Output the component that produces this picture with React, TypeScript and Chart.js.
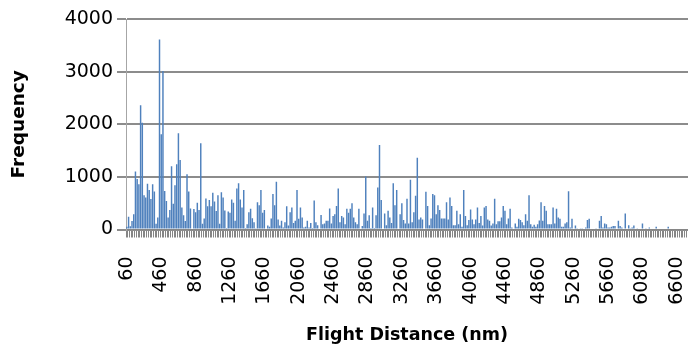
import React, { useEffect, useRef } from 'react';
import { Chart, registerables } from 'chart.js';

Chart.register(...registerables);

// Flight distance categories (nm)
const distances = [
  60, 80, 100, 120, 140, 160, 180, 200, 220, 240,
  260, 280, 300, 320, 340, 360, 380, 400, 420, 440,
  460, 480, 500, 520, 540, 560, 580, 600, 620, 640,
  660, 680, 700, 720, 740, 760, 780, 800, 820, 840,
  860, 880, 900, 920, 940, 960, 980, 1000, 1020, 1040,
  1060, 1080, 1100, 1120, 1140, 1160, 1180, 1200, 1220, 1240,
  1260, 1280, 1300, 1320, 1340, 1360, 1380, 1400, 1420, 1440,
  1460, 1480, 1500, 1520, 1540, 1560, 1580, 1600, 1620, 1640,
  1660, 1680, 1700, 1720, 1740, 1760, 1780, 1800, 1820, 1840,
  1860, 1880, 1900, 1920, 1940, 1960, 1980, 2000, 2020, 2040,
  2060, 2080, 2100, 2120, 2140, 2160, 2180, 2200, 2220, 2240,
  2260, 2280, 2300, 2320, 2340, 2360, 2380, 2400, 2420, 2440,
  2460, 2480, 2500, 2520, 2540, 2560, 2580, 2600, 2620, 2640,
  2660, 2680, 2700, 2720, 2740, 2760, 2780, 2800, 2820, 2840,
  2860, 2880, 2900, 2920, 2940, 2960, 2980, 3000, 3020, 3040,
  3060, 3080, 3100, 3120, 3140, 3160, 3180, 3200, 3220, 3240,
  3260, 3280, 3300, 3320, 3340, 3360, 3380, 3400, 3420, 3440,
  3460, 3480, 3500, 3520, 3540, 3560, 3580, 3600, 3620, 3640,
  3660, 3680, 3700, 3720, 3740, 3760, 3780, 3800, 3820, 3840,
  3860, 3880, 3900, 3920, 3940, 3960, 3980, 4000, 4020, 4040,
  4060, 4080, 4100, 4120, 4140, 4160, 4180, 4200, 4220, 4240,
  4260, 4280, 4300, 4320, 4340, 4360, 4380, 4400, 4420, 4440,
  4460, 4480, 4500, 4520, 4540, 4560, 4580, 4600, 4620, 4640,
  4660, 4680, 4700, 4720, 4740, 4760, 4780, 4800, 4820, 4840,
  4860, 4880, 4900, 4920, 4940, 4960, 4980, 5000, 5020, 5040,
  5060, 5080, 5100, 5120, 5140, 5160, 5180, 5200, 5220, 5240,
  5260, 5280, 5300, 5320, 5340, 5360, 5380, 5400, 5420, 5440,
  5460, 5480, 5500, 5520, 5540, 5560, 5580, 5600, 5620, 5640,
  5660, 5680, 5700, 5720, 5740, 5760, 5780, 5800, 5820, 5840,
  5860, 5880, 5900, 5920, 5940, 5980, 6000, 6020, 6040, 6060,
  6080, 6100, 6120, 6160, 6180, 6200, 6240, 6260, 6300, 6320,
  6340, 6380, 6400, 6420, 6460, 6480, 6500, 6540, 6560, 6580,
  6600, 6620, 6640, 6660, 6680, 6700, 6720,
];

// Frequency per distance category
const frequencies = [
  50, 240, 60, 160, 290, 1100, 960, 860, 2360, 2030,
  650, 610, 870, 750, 580, 860, 720, 110, 230, 3610,
  1810, 3010, 730, 540, 230, 370, 1200, 490, 840, 1240,
  1830, 1320, 420, 270, 160, 1050, 720, 400, 0, 390,
  330, 510, 370, 1640, 110, 210, 590, 440, 560, 440,
  700, 530, 350, 650, 110, 710, 610, 360, 30, 340,
  320, 570, 510, 165, 780, 880, 570, 420, 750, 30,
  100, 330, 395, 215, 140, 25, 520, 460, 750, 320,
  370, 0, 75, 50, 210, 675, 460, 905, 190, 75,
  165, 40, 140, 440, 75, 330, 420, 125, 165, 750,
  205, 420, 230, 40, 50, 165, 40, 125, 30, 550,
  140, 80, 0, 275, 100, 115, 165, 165, 400, 115,
  255, 290, 445, 780, 140, 255, 230, 100, 395, 320,
  395, 500, 230, 140, 100, 395, 0, 65, 305, 1005,
  165, 270, 10, 420, 10, 270, 800, 1605, 560, 20,
  305, 80, 355, 230, 125, 880, 460, 750, 20, 290,
  500, 180, 115, 585, 115, 945, 140, 330, 640, 1365,
  190, 230, 190, 20, 715, 445, 80, 210, 675, 650,
  290, 460, 370, 210, 210, 210, 520, 190, 610, 445,
  80, 80, 355, 100, 290, 50, 750, 255, 80, 180,
  380, 190, 100, 190, 420, 125, 255, 75, 420, 445,
  190, 165, 75, 115, 585, 100, 155, 155, 230, 445,
  355, 100, 210, 395, 40, 0, 115, 50, 205, 180,
  140, 80, 290, 165, 650, 100, 50, 90, 50, 100,
  170, 520, 165, 445, 355, 100, 100, 100, 420, 115,
  395, 230, 205, 50, 50, 115, 140, 725, 40, 205,
  20, 75, 15, 0, 15, 25, 0, 40, 180, 205,
  0, 0, 0, 15, 0, 165, 255, 40, 115, 100,
  40, 40, 50, 65, 65, 20, 165, 65, 40, 20,
  305, 0, 80, 15, 40, 75, 0, 25, 0, 0,
  115, 0, 15, 0, 40, 0, 0, 0, 50, 0,
  0, 0, 0, 0, 0, 50, 0, 0, 0, 0,
  0, 0, 0, 0, 0, 0, 0,
];

// Category labels shown on the x axis
const xTickLabels = [
  '60', '460', '860', '1260', '1660', '2060', '2460', '2860', '3260',
  '3660', '4060', '4460', '4860', '5260', '5660', '6080', '6600',
];

const yMin = 0;
const yMax = 4000;
const yStep = 1000;

const FONT = "'DejaVu Sans', 'Open Sans', sans-serif";
const GRID_COLOR = '#8C8C8C';

export default function App() {
  const canvasRef = useRef<HTMLCanvasElement | null>(null);

  useEffect(() => {
    const canvas = canvasRef.current;
    if (!canvas) return;
    const chart = new Chart(canvas, {
      type: 'bar',
      data: {
        labels: distances.map(String),
        datasets: [
          {
            data: frequencies,
            backgroundColor: '#4F81BD',
            borderWidth: 0,
            barPercentage: 0.85,
            categoryPercentage: 1.0,
          },
        ],
      },
      options: {
        animation: false,
        responsive: false,
        devicePixelRatio: 1,
        layout: { padding: { top: 19, right: 0, bottom: 6, left: 0 } },
        plugins: {
          legend: { display: false },
          tooltip: { enabled: false },
        },
        scales: {
          x: {
            type: 'category',
            offset: true,
            grid: {
              display: true,
              drawOnChartArea: false,
              drawTicks: true,
              tickLength: 8,
              color: '#868686',
              offset: true,
            },
            border: { display: true, color: '#868686', width: 1 },
            ticks: {
              autoSkip: false,
              maxRotation: 90,
              minRotation: 90,
              padding: 19,
              color: '#000',
              font: { family: FONT, size: 19 },
              callback: (_v: any, i: number) => {
                const s = String(distances[i]);
                return xTickLabels.includes(s) ? s : '';
              },
            },
            title: {
              display: true,
              text: 'Flight Distance (nm)',
              color: '#000',
              font: { family: FONT, size: 17.5, weight: 'bold' },
              padding: { top: 0, bottom: 0 },
            },
            afterFit: (s: any) => {
              s.height = 116.5;
              s.paddingLeft = 0;
              s.paddingRight = 0;
            },
          } as any,
          y: {
            type: 'linear',
            min: yMin,
            max: yMax,
            ticks: {
              stepSize: yStep,
              padding: 4,
              color: '#000',
              font: { family: FONT, size: 19 },
              callback: (v: any) => String(v),
            },
            grid: {
              display: true,
              drawOnChartArea: true,
              drawTicks: true,
              lineWidth: 2,
              color: GRID_COLOR,
              tickColor: GRID_COLOR,
              tickWidth: 2,
              tickLength: 9,
            },
            border: { display: true, color: '#A6A6A6', width: 1 },
            title: {
              display: true,
              text: 'Frequency',
              color: '#000',
              font: { family: FONT, size: 18.5, weight: 'bold' },
              padding: { top: 8, bottom: 0 },
            },
            afterFit: (s: any) => {
              s.width = 126;
            },
          } as any,
        },
      },
    });
    return () => chart.destroy();
  }, []);

  return (
    <div style={{ position: 'fixed', left: 0, top: 0, width: 688, height: 352, background: '#fff' }}>
      <canvas ref={canvasRef} width={688} height={352} style={{ display: 'block' }} />
    </div>
  );
}
